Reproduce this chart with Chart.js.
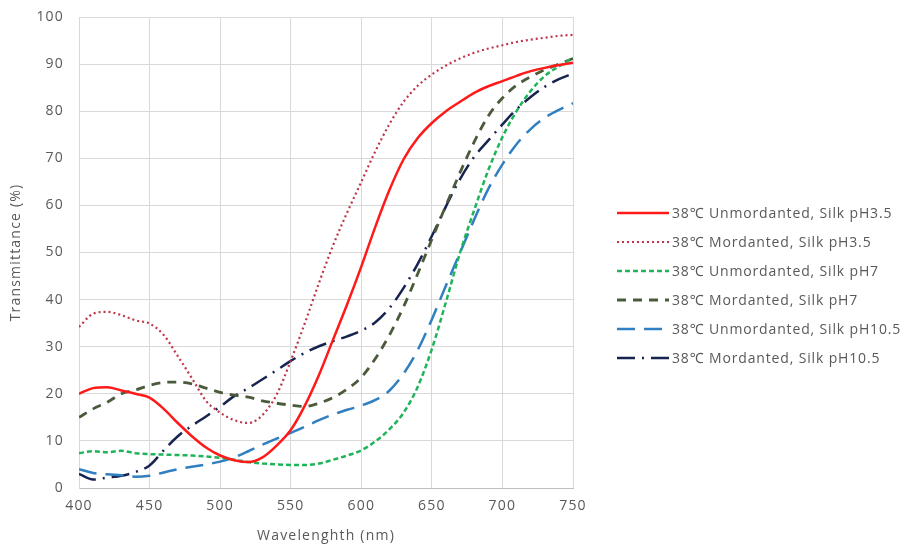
<!DOCTYPE html>
<html>
<head>
<meta charset="utf-8">
<script src="https://cdn.jsdelivr.net/npm/chart.js@4.4.1/dist/chart.umd.min.js"></script>
<style>
  html, body { margin: 0; padding: 0; background: #fff; }
  #wrap { width: 912px; height: 548px; position: relative; }
</style>
</head>
<body>
<div id="wrap"><canvas id="chart" width="912" height="548"></canvas></div>
<script>
// wavelengths (nm)
var wavelengths = [400, 410, 420, 430, 440, 450, 460, 470, 480, 490, 500, 510, 520, 530, 540, 550, 560, 570,
                   580, 590, 600, 610, 620, 630, 640, 650, 660, 670, 680, 690, 700, 710, 720, 730, 740, 750];

var seriesNames = [
    '38\u2103 Unmordanted, Silk pH3.5',
    '38\u2103 Mordanted, Silk pH3.5',
    '38\u2103 Unmordanted, Silk pH7',
    '38\u2103 Mordanted, Silk pH7',
    '38\u2103 Unmordanted, Silk pH10.5',
    '38\u2103 Mordanted, Silk pH10.5'
];

var unmordPH35 = [20, 21.2, 21.4, 20.7, 20.0, 19.2, 16.8, 13.8, 11.0, 8.6, 6.9, 5.9, 5.5, 6.5, 9.0, 12.3, 17.5, 24,
                  31.5, 39, 47, 55.5, 63.3, 69.8, 74.3, 77.5, 80, 82, 83.9, 85.3, 86.4, 87.5, 88.5, 89.2, 89.8, 90.3];
var mordPH35   = [34.2, 37, 37.4, 36.7, 35.6, 34.9, 32.5, 28, 23.3, 18.5, 16, 14.4, 13.8, 15.5, 19.8, 27, 35, 43.5,
                  51.5, 58.5, 65, 71.5, 77.3, 82, 85.4, 87.8, 89.7, 91.2, 92.4, 93.3, 94, 94.7, 95.2, 95.6, 96, 96.2];
var unmordPH7  = [7.4, 7.8, 7.6, 7.9, 7.4, 7.2, 7.1, 7.0, 6.9, 6.7, 6.4, 6.0, 5.5, 5.2, 5.0, 4.9, 4.9, 5.2,
                  6.0, 6.9, 8.0, 9.9, 12.5, 16, 21.5, 29.5, 39.5, 50, 59, 67.5, 74.5, 80, 84.3, 87.5, 89.5, 91.3];
var mordPH7    = [15, 16.8, 18.2, 20, 20.8, 21.8, 22.4, 22.5, 22.1, 21.2, 20.3, 19.7, 19.3, 18.5, 18, 17.6, 17.3, 18.0,
                  19.2, 21, 23.5, 27.5, 32.5, 38.5, 45.5, 52.8, 60, 67, 73.5, 79, 82.8, 85.5, 87.3, 88.8, 90, 91.2];
var unmordPH10 = [4.0, 3.2, 2.9, 2.7, 2.4, 2.6, 3.3, 4.0, 4.5, 5.0, 5.6, 6.5, 7.8, 9.2, 10.5, 11.7, 13, 14.4,
                  15.6, 16.6, 17.5, 18.7, 20.7, 24.3, 29.3, 35.8, 43, 50, 57, 63.5, 68.7, 73, 76.2, 78.6, 80.3, 81.7];
var mordPH10   = [3.0, 1.8, 2.2, 2.6, 3.4, 4.8, 8.0, 11, 13.2, 15.2, 17.3, 19.5, 21.2, 23.1, 25, 27, 28.7, 30.1,
                  31.2, 32.2, 33.4, 35.2, 38.2, 42.5, 47.6, 53.5, 59.8, 65.6, 70.3, 73.8, 77.2, 80.4, 83, 85.2, 86.8, 88];

var allSeries = [unmordPH35, mordPH35, unmordPH7, mordPH7, unmordPH10, mordPH10];
var colors = ['#ff1a1a', '#c0354a', '#1fb35a', '#4b5a3a', '#2f7fc1', '#16244f'];
var dashes = [[], [2, 3], [5, 3], [9, 7], [18, 9], [18, 7, 2, 7]];
var widths = [2.5, 2.2, 2.5, 2.8, 2.5, 2.5];

function toPoints(values) {
    return values.map(function (v, i) { return { x: wavelengths[i], y: v }; });
}

var datasets = allSeries.map(function (vals, i) {
    return {
        label: seriesNames[i],
        data: toPoints(vals),
        borderColor: colors[i],
        backgroundColor: colors[i],
        borderWidth: widths[i],
        borderDash: dashes[i],
        pointRadius: 0,
        fill: false,
        cubicInterpolationMode: 'monotone'
    };
});

var FONT = '"Open Sans", "Noto Sans", sans-serif';
var TEXT = '#595959';

// the original font is wide, so space the letters out a little
var spacing = {
    id: 'spacing',
    beforeInit: function (chart) { chart.ctx.letterSpacing = '1.2px'; },
    beforeDraw: function (chart) { chart.ctx.letterSpacing = '1.2px'; }
};

// legend drawn by hand so the line styles match
var sideLegend = {
    id: 'sideLegend',
    afterDraw: function (chart) {
        var ctx = chart.ctx;
        ctx.save();
        ctx.font = '14px ' + FONT;
        ctx.letterSpacing = '0.85px';
        ctx.textBaseline = 'middle';
        ctx.fillStyle = TEXT;
        chart.data.datasets.forEach(function (ds, i) {
            var y = 213 + i * 29;
            ctx.beginPath();
            ctx.strokeStyle = ds.borderColor;
            ctx.lineWidth = ds.borderWidth;
            ctx.setLineDash(ds.borderDash || []);
            ctx.moveTo(617, y);
            ctx.lineTo(669, y);
            ctx.stroke();
            ctx.setLineDash([]);
            ctx.fillText(ds.label, 672, y + 1);
        });
        ctx.restore();
    }
};

new Chart(document.getElementById('chart').getContext('2d'), {
    type: 'line',
    data: { datasets: datasets },
    plugins: [spacing, sideLegend],
    options: {
        responsive: false,
        animation: false,
        layout: { padding: { top: 17, right: 339, bottom: 0, left: 0 } },
        plugins: {
            legend: { display: false },
            tooltip: { enabled: false }
        },
        scales: {
            x: {
                type: 'linear',
                min: 400,
                max: 750,
                ticks: { stepSize: 50, color: TEXT, font: { family: FONT, size: 14 }, padding: 10 },
                grid: { color: '#d9d9d9', drawTicks: false },
                border: { color: '#bfbfbf' },
                title: { display: true, text: 'Wavelenghth (nm)', color: TEXT, font: { family: FONT, size: 14 }, padding: { top: 4 } },
                afterFit: function (scale) { scale.height = 60; }
            },
            y: {
                min: 0,
                max: 100,
                ticks: { stepSize: 10, color: TEXT, font: { family: FONT, size: 14 }, padding: 15 },
                grid: { color: '#d9d9d9', drawTicks: false },
                border: { color: '#d9d9d9' },
                title: { display: true, text: 'Transmittance (%)', color: TEXT, font: { family: FONT, size: 14 }, padding: { top: 8, bottom: 4 } },
                afterFit: function (scale) {
                    scale.width = 79;
                    scale.paddingTop = 0;
                    scale.paddingBottom = 0;
                }
            }
        }
    }
});
</script>
</body>
</html>
